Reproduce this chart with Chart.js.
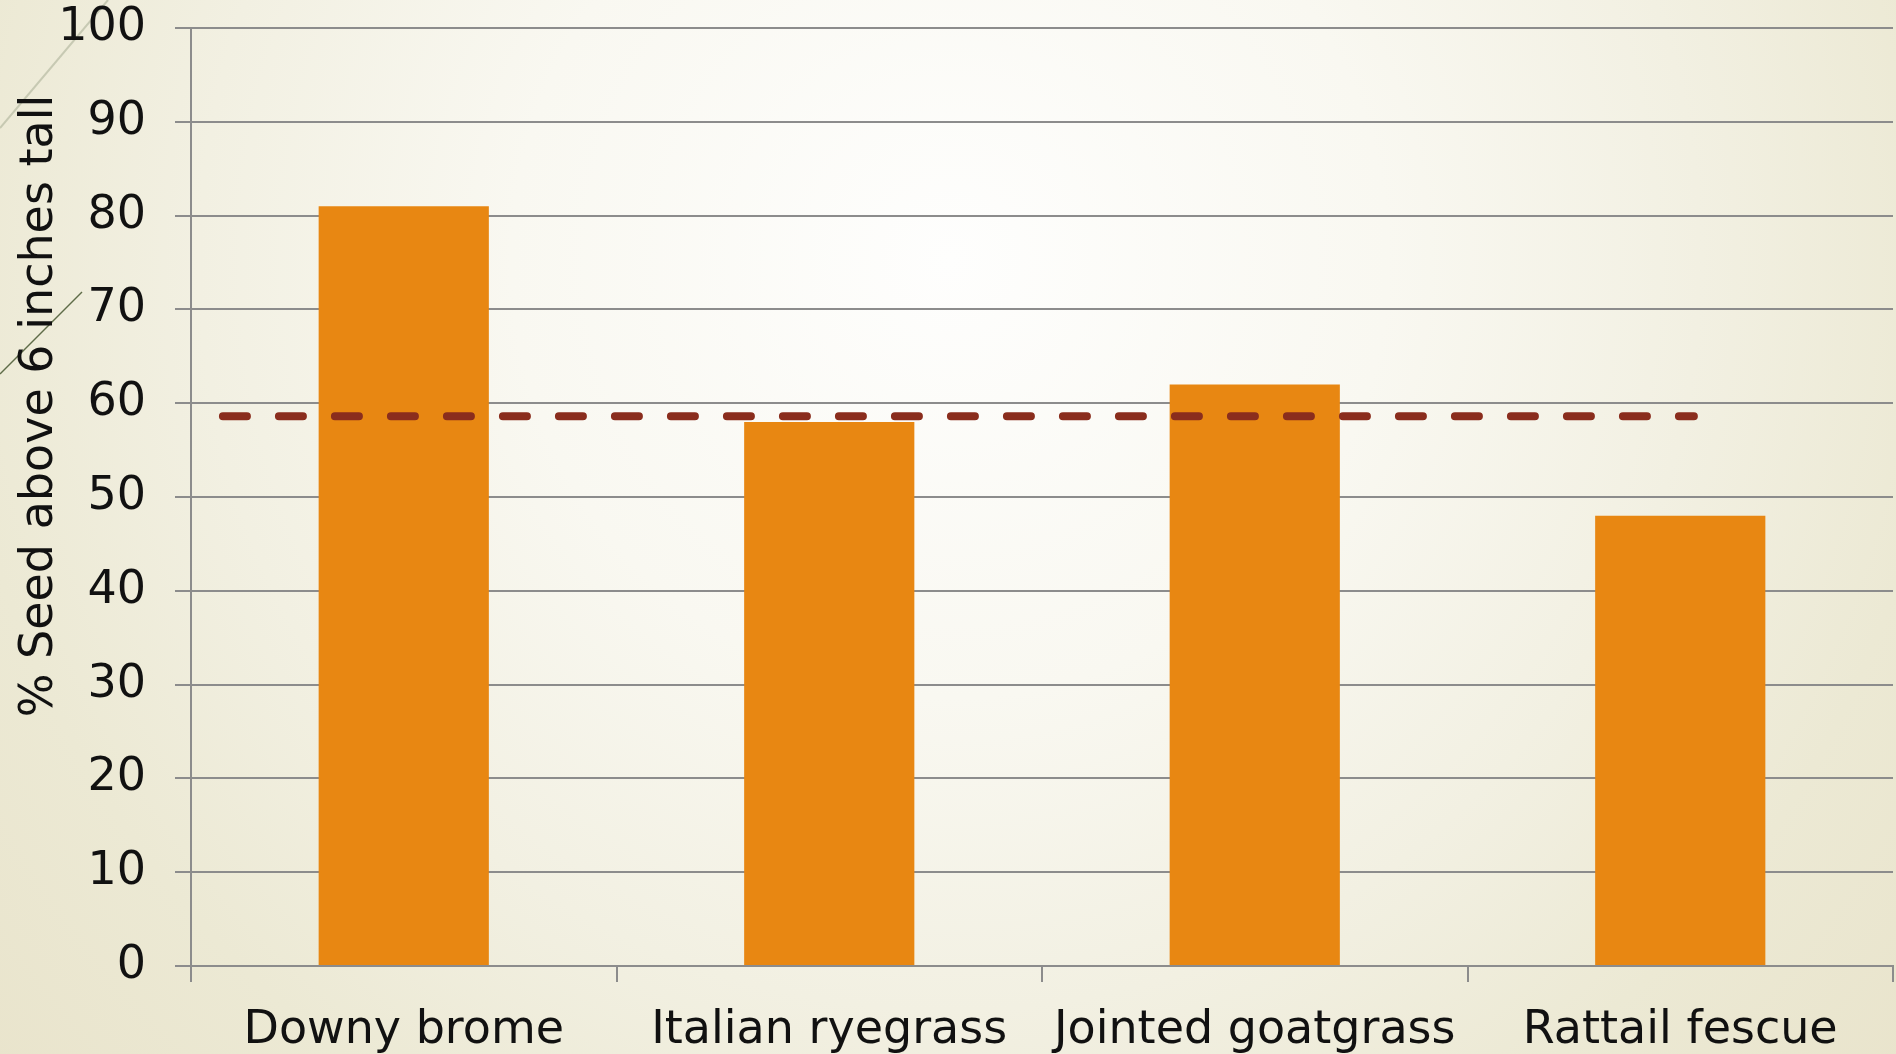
<!DOCTYPE html>
<html>
<head>
<meta charset="utf-8">
<script src="https://cdn.jsdelivr.net/npm/chart.js@4"></script>
<style>
    html, body {
        margin: 0;
        padding: 0;
        width: 1896px;
        height: 1054px;
        overflow: hidden;
        background: radial-gradient(circle 1250px at 950px 260px, #fefefd 0%, #f9f8f1 35%, #f2f0e2 60%, #ece9d4 80%, #e9e4cc 100%);
    }
    #wrap {
        position: relative;
        width: 1896px;
        height: 1054px;
    }
</style>
</head>
<body>
<div id="wrap"><canvas id="chart"></canvas></div>
<script>
const categories = ['Downy brome', 'Italian ryegrass', 'Jointed goatgrass', 'Rattail fescue']
const seedAbove6 = [81, 58, 62, 48]
const referenceValue = 58.6
// span of the dashed line, in category units (0 = left edge, 4 = right edge)
const referenceSpan = [0.075, 3.532]
const yTicks = { min: 0, max: 100, step: 10 }
const yTitle = '% Seed above 6 inches tall'

const fontFamily = '"DejaVu Sans", sans-serif'
const gridColor = '#8c8c8c'
const textColor = '#111111'

Chart.defaults.animation = false
Chart.defaults.font.family = fontFamily

// thin decorative strokes in the top-left corner of the slide
const backdrop = {
    id: 'backdrop',
    beforeDraw(chart) {
        const ctx = chart.ctx
        ctx.save()
        ctx.lineWidth = 2
        ctx.strokeStyle = 'rgba(185, 190, 165, 0.75)'
        ctx.beginPath()
        ctx.moveTo(0, 128)
        ctx.lineTo(108, 0)
        ctx.stroke()
        ctx.lineWidth = 1.5
        ctx.strokeStyle = '#5f6c48'
        ctx.beginPath()
        ctx.moveTo(0, 374)
        ctx.lineTo(82, 292)
        ctx.stroke()
        ctx.restore()
    },
}

// axis title sits above the middle of the axis, so draw it by hand
const sideTitle = {
    id: 'sideTitle',
    afterDraw(chart) {
        const ctx = chart.ctx
        ctx.save()
        ctx.translate(40, 406)
        ctx.rotate(-Math.PI / 2)
        ctx.font = '46px ' + fontFamily
        ctx.fillStyle = textColor
        ctx.textAlign = 'center'
        ctx.textBaseline = 'middle'
        ctx.fillText(yTitle, 0, 0)
        ctx.restore()
    },
}

new Chart(document.getElementById('chart'), {
    type: 'bar',
    data: {
        labels: categories,
        datasets: [
            {
                type: 'line',
                xAxisID: 'xLine',
                data: referenceSpan.map((x) => ({ x: x, y: referenceValue })),
                borderColor: '#8a2d1d',
                borderWidth: 8,
                borderDash: [24, 32],
                borderCapStyle: 'round',
                pointRadius: 0,
                fill: false,
                order: 0,
            },
            {
                type: 'bar',
                data: seedAbove6,
                backgroundColor: '#e88712',
                borderWidth: 0,
                grouped: false,
                categoryPercentage: 1,
                barPercentage: 0.4,
                order: 1,
            },
        ],
    },
    options: {
        responsive: true,
        maintainAspectRatio: false,
        layout: { padding: { top: 28, right: 3, left: 0, bottom: 0 } },
        plugins: {
            legend: { display: false },
            tooltip: { enabled: false },
        },
        scales: {
            x: {
                type: 'category',
                offset: true,
                grid: {
                    offset: true,
                    drawOnChartArea: false,
                    drawTicks: true,
                    tickLength: 16,
                    color: gridColor,
                    lineWidth: 2,
                },
                border: { display: true, color: gridColor, width: 2 },
                ticks: {
                    color: textColor,
                    font: { size: 46 },
                    padding: 21,
                    maxRotation: 0,
                    autoSkip: false,
                },
                afterFit(scale) {
                    scale.height = 88
                },
            },
            xLine: {
                type: 'linear',
                display: false,
                offset: false,
                min: 0,
                max: categories.length,
            },
            y: {
                min: yTicks.min,
                max: yTicks.max,
                ticks: {
                    stepSize: yTicks.step,
                    color: textColor,
                    font: { size: 46 },
                    padding: 29,
                },
                grid: {
                    color: gridColor,
                    lineWidth: 2,
                    tickLength: 16,
                },
                border: { display: true, color: gridColor, width: 2 },
                afterFit(scale) {
                    scale.width = 191
                    scale.paddingTop = 0
                    scale.paddingBottom = 0
                },
            },
        },
    },
    plugins: [backdrop, sideTitle],
})
</script>
</body>
</html>
